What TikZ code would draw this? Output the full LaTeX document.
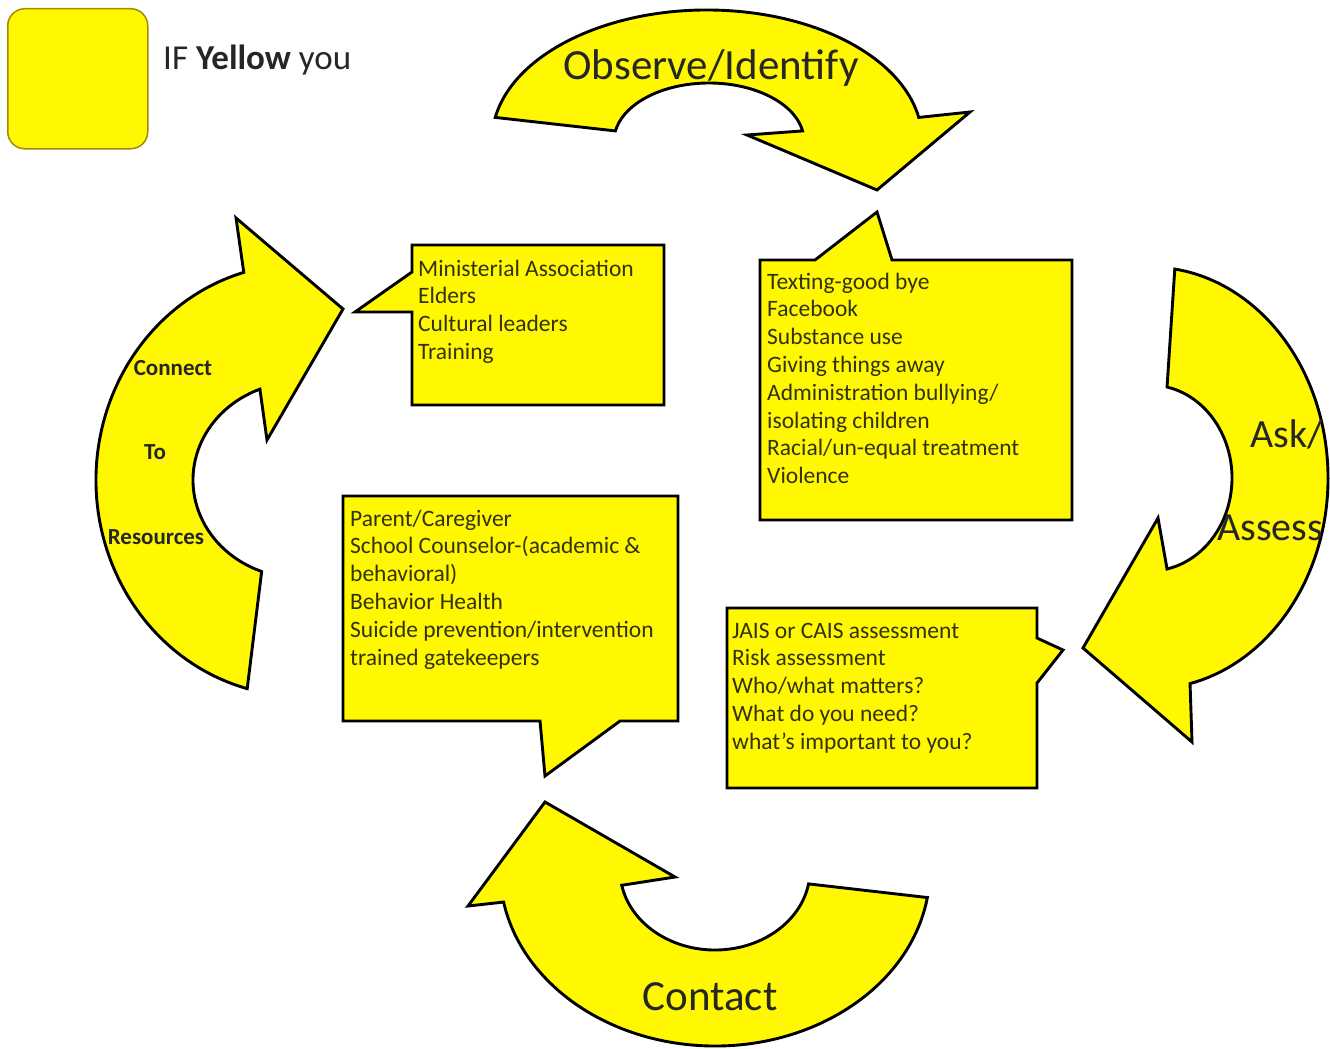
\documentclass[tikz,border=0pt]{standalone}
\usepackage{fontspec}
\setmainfont{Carlito}
\usetikzlibrary{calc}
\definecolor{fillyellow}{RGB}{255,248,0}
\definecolor{boxtext}{RGB}{50,50,18}
\definecolor{legendedge}{RGB}{160,140,0}
\newcommand\linesbox[1]{\vtop{\baselineskip=27.8pt\lineskiplimit=-100pt\lineskip=0pt #1}}
\begin{document}
\begin{tikzpicture}[x=1pt,y=1pt,
  yshape/.style={fill=fillyellow, draw=black, line width=2.9pt, line join=miter},
  boxtxt/.style={anchor=base west, inner sep=0pt, text=boxtext, font=\fontsize{23.5}{27.8}\selectfont},
  biglabel/.style={anchor=base, inner sep=0pt, text=black!85, font=\fontsize{43}{48}\selectfont},
  arrlabel/.style={anchor=base, inner sep=0pt, text=black!85, font=\bfseries\fontsize{23}{27}\selectfont}]
\useasboundingbox (0,0) rectangle (1330,-1049);
\fill[white] (0,0) rectangle (1330,-1049);

% legend
\node[draw=legendedge, line width=1.5pt, fill=fillyellow, rounded corners=17pt,
      minimum width=140pt, minimum height=140pt, inner sep=0pt, anchor=north west] (legendbox) at (7,-8) {};
\node[anchor=base west, inner sep=0pt, font=\fontsize{35}{40}\selectfont, text=black!85] (legendtext) at (163,-70) {IF \textbf{Yellow} you};

% top arrow: Observe/Identify
\coordinate (oc) at (707,-140);
\draw[yshape] ($(oc)+(170:215pt and 130pt)$) arc[start angle=170,end angle=10,x radius=215pt,y radius=130pt]
  -- (970,-112) -- (877,-190) -- (747,-135)
  -- ($(oc)+(2,-1)+(10:95pt and 58pt)$) arc[start angle=10,end angle=170,x radius=95pt,y radius=58pt] -- cycle;
\node[biglabel] (observe) at (711,-79) {Observe/Identify};

% left arrow: Connect To Resources
\coordinate (lc) at (300,-480);
\draw[yshape] ($(lc)+(106:204pt and 216pt)$) -- (236,-218) -- (343,-309) -- (267,-440)
  -- ($(lc)+(112:107pt and 98pt)$) arc[start angle=112,end angle=249,x radius=107pt,y radius=98pt]
  -- ($(lc)+(255:204pt and 216pt)$) arc[start angle=255,end angle=106,x radius=204pt,y radius=216pt] -- cycle;
\node[arrlabel] (connect) at (173,-375) {Connect};
\node[arrlabel] (to) at (155,-459) {To};
\node[arrlabel] (resources) at (156,-544) {Resources};

% right arrow: Ask/Assess
\coordinate (rc) at (1150,-478);
\draw[yshape] ($(rc)+(82:178pt and 211pt)$)
  -- ($(rc)+(78:82pt and 93pt)$) arc[start angle=78,end angle=-78,x radius=82pt,y radius=93pt]
  -- (1158,-518) -- (1083,-648) -- (1192,-742)
  -- ($(rc)+(-77:178pt and 211pt)$) arc[start angle=-77,end angle=82,x radius=178pt,y radius=211pt] -- cycle;
\node[biglabel, anchor=base west, font=\fontsize{40}{46}\selectfont] (ask) at (1250,-447) {Ask/};
\node[biglabel, anchor=base west, font=\fontsize{40}{46}\selectfont] (assess) at (1217,-540) {Assess};

% bottom arrow: Contact
\coordinate (bc) at (715,-870);
\draw[yshape] ($(bc)+(-9:215pt and 176pt)$) arc[start angle=-9,end angle=-169.5,x radius=215pt,y radius=176pt]
  -- (468,-906) -- (545,-802) -- (675,-877)
  -- ($(bc)+(-169:95pt and 80pt)$) arc[start angle=-169,end angle=-10,x radius=95pt,y radius=80pt] -- cycle;
\node[biglabel] (contact) at (710,-1010) {Contact};

% callouts
\draw[yshape] (412,-245) -- (664,-245) -- (664,-405) -- (412,-405) -- (412,-312) -- (355,-312) -- (412,-272) -- cycle;
\node[boxtxt] (mintext) at (418,-276) {\linesbox{\hbox{Ministerial Association}\hbox{Elders}\hbox{Cultural leaders}\hbox{Training}}};

\draw[yshape] (760,-260) -- (815,-260) -- (877,-212) -- (892,-260) -- (1072,-260) -- (1072,-520) -- (760,-520) -- cycle;
\node[boxtxt] (signtext) at (767,-289) {\linesbox{\hbox{Texting-good bye}\hbox{Facebook}\hbox{Substance use}\hbox{Giving things away}\hbox{Administration bullying/}\hbox{isolating children}\hbox{Racial/un-equal treatment}\hbox{Violence}}};

\draw[yshape] (343,-496) -- (678,-496) -- (678,-721) -- (620,-721) -- (545,-776) -- (540,-721) -- (343,-721) -- cycle;
\node[boxtxt] (contacttext) at (350,-526) {\linesbox{\hbox{Parent/Caregiver}\hbox{School Counselor-(academic \&}\hbox{behavioral)}\hbox{Behavior Health}\hbox{Suicide prevention/intervention}\hbox{trained gatekeepers}}};

\draw[yshape] (727,-608) -- (1037,-608) -- (1037,-638) -- (1063,-650) -- (1037,-683) -- (1037,-788) -- (727,-788) -- cycle;
\node[boxtxt] (asktext) at (732,-638) {\linesbox{\hbox{JAIS or CAIS assessment}\hbox{Risk assessment}\hbox{Who/what matters?}\hbox{What do you need?}\hbox{what’s important to you?}}};
\end{tikzpicture}
\end{document}
